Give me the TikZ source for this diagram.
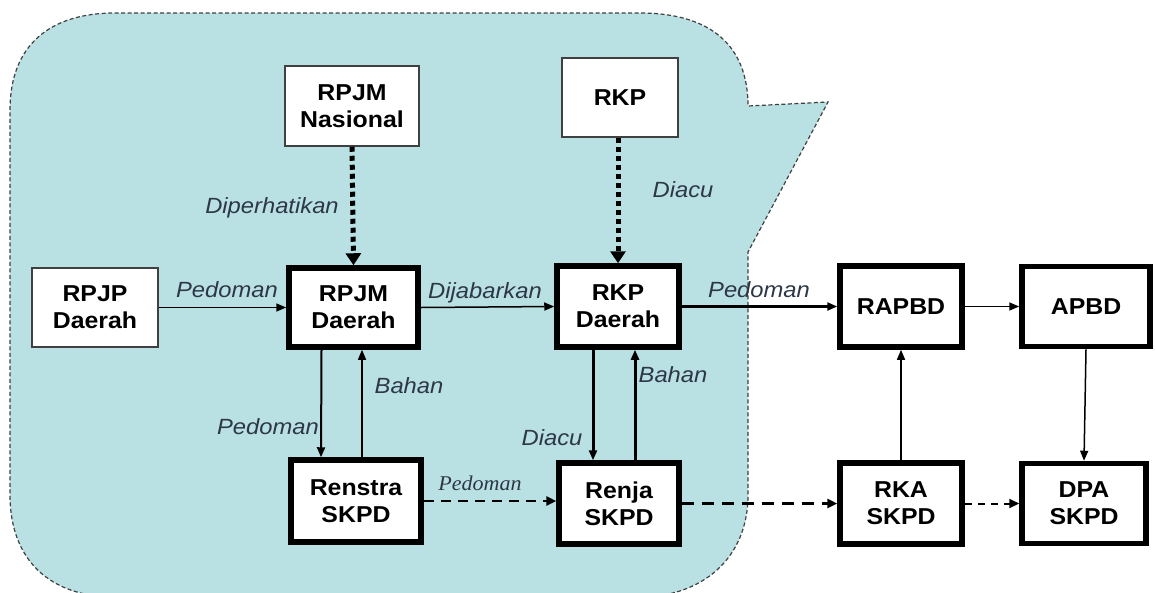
\documentclass[tikz,border=0pt]{standalone}
\usepackage{fontspec}
\setmainfont{Liberation Sans}[FakeStretch=1.08]
\newfontfamily\serifit{Liberation Serif}[FakeStretch=1.05]
\usetikzlibrary{arrows.meta}
\definecolor{bgteal}{RGB}{185,224,227}
\definecolor{lblcol}{RGB}{45,55,70}
\begin{document}
\begin{tikzpicture}[x=1pt,y=-1pt,
  thinbox/.style={draw=black!75, line width=1.5pt, fill=white, align=center, inner sep=0pt,
    font=\bfseries\fontsize{23}{27}\selectfont},
  thickbox/.style={draw=black, line width=5.5pt, fill=white, align=center, inner sep=0pt,
    font=\bfseries\fontsize{23}{27}\selectfont},
  lbl/.style={anchor=base, inner sep=0pt, text=lblcol, font=\itshape\fontsize{22}{26}\selectfont},
  sarrow/.style={line width=1.5pt, -{Triangle[length=10pt,width=8pt]}},
  dotarrow/.style={line width=5pt, dash pattern=on 5pt off 4pt, -{Triangle[length=12pt,width=15pt]}},
  dasharrow/.style={line width=2.5pt, dash pattern=on 10pt off 7pt, -{Triangle[length=10pt,width=9pt]}}
]
\useasboundingbox (0,0) rectangle (1155,592);
% background callout
\draw[fill=bgteal, draw=black!75, line width=1.2pt, dash pattern=on 4pt off 2.5pt]
  (10,110) .. controls (10,45) and (50,13) .. (115,13) -- (640,13)
  .. controls (710,13) and (748,45) .. (748,106) -- (828,102) -- (748,252) -- (748,495)
  .. controls (748,560) and (700,597) .. (640,597) -- (115,597)
  .. controls (50,597) and (10,560) .. (10,495) -- cycle;

% nodes
\node[thinbox, minimum width=134pt, minimum height=80pt] (rpjmn) at (352,106) {RPJM\\Nasional};
\node[thinbox, minimum width=116pt, minimum height=79pt] (rkp) at (620,97.5) {RKP};
\node[thinbox, minimum width=126pt, minimum height=79pt] (rpjp) at (95,307.5) {RPJP\\Daerah};
\node[thickbox, minimum width=129pt, minimum height=79pt] (rpjmd) at (353.5,307.5) {RPJM\\Daerah};
\node[thickbox, minimum width=122pt, minimum height=81pt] (rkpd) at (618,306.5) {RKP\\Daerah};
\node[thickbox, minimum width=122pt, minimum height=81pt] (rapbd) at (901,306.5) {RAPBD};
\node[thickbox, minimum width=128pt, minimum height=80pt] (apbd) at (1086,306.5) {APBD};
\node[thickbox, minimum width=130pt, minimum height=82pt] (renstra) at (356,501) {Renstra\\SKPD};
\node[thickbox, minimum width=120pt, minimum height=81pt] (renja) at (619,503.5) {Renja\\SKPD};
\node[thickbox, minimum width=122pt, minimum height=81pt] (rka) at (901,503.5) {RKA\\SKPD};
\node[thickbox, minimum width=124pt, minimum height=80pt] (dpa) at (1084,503.5) {DPA\\SKPD};

% connectors
\draw[dotarrow] (rpjmn.south) -- (rpjmd.north);
\draw[dotarrow] (rkp.south -| rkpd.north) -- (rkpd.north);
\draw[sarrow] (rpjp.east) -- (rpjmd.west);
\draw[sarrow] (rpjmd.east) -- (rkpd.west);
\draw[sarrow, line width=2.2pt] (rkpd.east) -- (rapbd.west);
\draw[sarrow] (rapbd.east) -- (apbd.west);
\draw[sarrow, line width=2pt] ([xshift=-32pt]rpjmd.south) -- ([xshift=-35pt]renstra.north);
\draw[sarrow] ([xshift=6pt]renstra.north) -- ([xshift=8.5pt]rpjmd.south);
\draw[sarrow, line width=3pt] ([xshift=-25pt]rkpd.south) -- ([xshift=-26pt]renja.north);
\draw[sarrow, line width=3pt] ([xshift=16pt]renja.north) -- ([xshift=17pt]rkpd.south);
\draw[sarrow] (rka.north) -- (rapbd.south);
\draw[sarrow] (apbd.south) -- (dpa.north);
\draw[dasharrow] (renstra.east) -- (renstra.east -| renja.west);
\draw[dasharrow, line width=3pt, dash pattern=on 12pt off 8pt] (renja.east) -- (rka.west);
\draw[dasharrow, line width=2pt, dash pattern=on 7pt off 6pt] (rka.east) -- (dpa.west);

% labels
\node[lbl] (l1) at (272,213) {Diperhatikan};
\node[lbl] (l2) at (683,197) {Diacu};
\node[lbl] (l3) at (227,297) {Pedoman};
\node[lbl] (l4) at (485,298) {Dijabarkan};
\node[lbl] (l5) at (759,297) {Pedoman};
\node[lbl] (l6) at (409,393) {Bahan};
\node[lbl] (l7) at (268,434) {Pedoman};
\node[lbl] (l8) at (552,445) {Diacu};
\node[lbl] (l9) at (673,382) {Bahan};
\node[lbl, font=\serifit\itshape\fontsize{21}{25}\selectfont] (l10) at (480,490) {Pedoman};
\end{tikzpicture}
\end{document}
